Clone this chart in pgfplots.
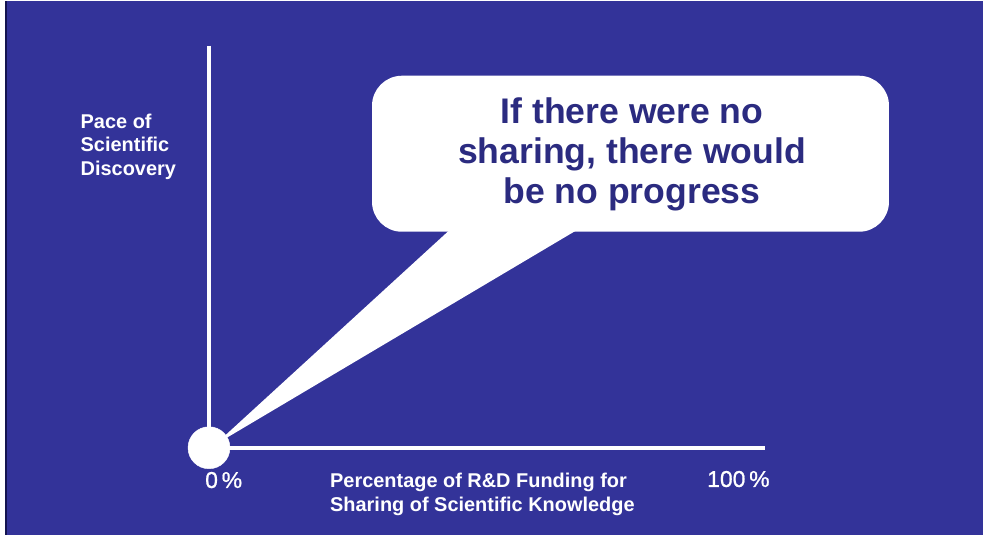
\documentclass[border=0pt]{standalone}
\usepackage{fontspec}
\setmainfont{Liberation Sans}
\newfontfamily\pctfont[FakeBold=0.8]{Liberation Sans}
\usepackage{pgfplots}
\pgfplotsset{compat=1.18}
\definecolor{bgblue}{RGB}{51,51,153}
\definecolor{txtblue}{RGB}{43,43,128}
\definecolor{edgeblue}{RGB}{20,20,80}
\begin{document}
\begin{tikzpicture}
\begin{axis}[
  width=983bp, height=534bp, scale only axis,
  xmin=-37.59, xmax=139.21, ymin=-21.64, ymax=111.19,
  hide axis, clip=false,
]
% background
\fill[white] (rel axis cs:0,0) rectangle (rel axis cs:1,1);
\fill[bgblue] (axis cs:-36.51,-21.64) rectangle (rel axis cs:1,1);
\draw[edgeblue, line width=1.5bp] (axis cs:-36.51,-21.64) -- (axis cs:-36.51,111.19);
% axes (0% .. 100%)
\addplot[white, line width=4.5bp] coordinates {(0,100) (0,0) (100,0)};
% callout bubble
\fill[white, rounded corners=30bp] (axis cs:29.32,53.73) rectangle (axis cs:122.30,92.54);
\fill[white] (axis cs:44.73,56) -- (axis cs:1.08,0.75) -- (axis cs:68.42,56) -- cycle;
% point at origin
\addplot[only marks, mark=*, mark size=21bp, mark options={fill=white, draw=white}] coordinates {(0,0)};
% texts
\node[anchor=center, align=center, text=txtblue, font=\bfseries\fontsize{35.7}{40}\selectfont, inner sep=0pt]
  at (axis cs:76.08,73.01) {If there were no\\sharing, there would\\be no progress};
\node[anchor=north west, align=left, text=white, font=\bfseries\fontsize{20}{23.5}\selectfont, inner sep=0pt]
  at (axis cs:-23.11,83.08) {Pace of\\Scientific\\Discovery};
\node[anchor=north west, align=left, text=white, font=\bfseries\fontsize{20}{24}\selectfont, inner sep=0pt]
  at (axis cs:21.76,-6.22) {Percentage of R\&D Funding for\\Sharing of Scientific Knowledge};
\node[anchor=north west, text=white, font=\pctfont\fontsize{23}{27}\selectfont, inner sep=0pt]
  at (axis cs:-0.72,-5.97) {0\,\%};
\node[anchor=north west, text=white, font=\pctfont\fontsize{23}{27}\selectfont, inner sep=0pt]
  at (axis cs:89.57,-5.72) {100\,\%};
\end{axis}
\end{tikzpicture}
\end{document}
